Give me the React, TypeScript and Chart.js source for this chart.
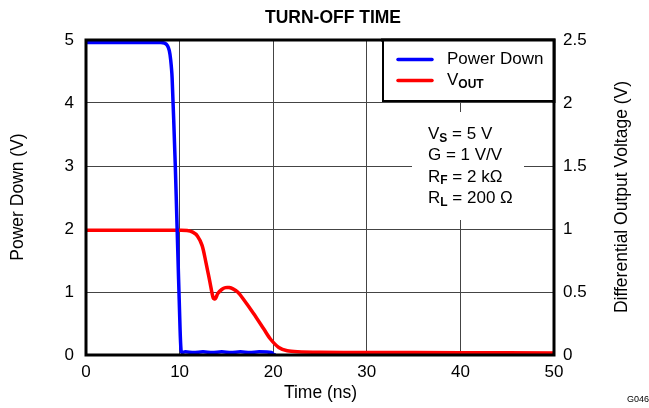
import React, { useEffect, useRef } from "react";
import { Chart, registerables } from "chart.js";

Chart.register(...registerables);

const chartTitle = "TURN-OFF TIME";
const xAxisTitle = "Time (ns)";
const leftAxisTitle = "Power Down (V)";
const rightAxisTitle = "Differential Output Voltage (V)";
const footnote = "G046";

const xTicks = [0, 10, 20, 30, 40, 50];
const leftTicks = [0, 1, 2, 3, 4, 5];
const rightTicks = [0, 0.5, 1, 1.5, 2, 2.5];

const seriesNames = ["Power Down", "V"];
const seriesSubscripts = ["", "OUT"];
const seriesColors = ["#0000ff", "#ff0000"];

const powerDownTime = [0, 8.0, 8.4, 8.7, 8.9, 9.05, 9.2, 9.53, 9.74, 10.05, 10.15, 10.25, 10.6, 11.5, 12.5, 13.5, 14.5, 15.5, 16.5, 17.5, 18.5, 19.8, 20.1, 20.3];
const powerDownVolts = [4.96, 4.96, 4.95, 4.91, 4.83, 4.68, 4.4, 3.05, 1.99, 0.41, 0.08, 0.04, 0.05, 0.04, 0.05, 0.04, 0.05, 0.04, 0.05, 0.04, 0.05, 0.04, 0.0, 0.0];

const voutTime = [0, 10, 10.8, 11.4, 11.9, 12.4, 12.8, 13.25, 13.6, 13.8, 14.1, 14.5, 14.9, 15.3, 15.7, 16.2, 16.8, 17.9, 19.0, 19.7, 20.6, 21.5, 22.6, 25, 30, 40, 50];
const voutVolts = [0.99, 0.99, 0.988, 0.975, 0.945, 0.87, 0.74, 0.575, 0.45, 0.445, 0.49, 0.52, 0.535, 0.535, 0.525, 0.5, 0.445, 0.33, 0.206, 0.127, 0.06, 0.034, 0.026, 0.022, 0.02, 0.018, 0.016];

const conditionMain = ["V", "G", "R", "R"];
const conditionSub = ["S", "", "F", "L"];
const conditionRest = [" = 5 V", " = 1 V/V", " = 2 k\u03A9", " = 200 \u03A9"];

const FONT = "'Liberation Sans', Arial, sans-serif";

const decorPlugin = {
  id: "decor",
  afterDatasetsDraw(chart: any) {
    const { ctx, chartArea: a } = chart;
    ctx.save();
    // frame
    ctx.strokeStyle = "#000";
    ctx.lineWidth = 3;
    ctx.strokeRect(a.left, a.top, a.right - a.left, a.bottom - a.top);
    // legend box
    const lx = 383, ly = a.top, lw = a.right - 383, lh = 101 - a.top;
    ctx.fillStyle = "#fff";
    ctx.fillRect(lx, ly, lw, lh);
    ctx.strokeStyle = "#000";
    ctx.lineWidth = 2;
    ctx.strokeRect(lx, ly, lw, lh);
    ctx.lineWidth = 3;
    ctx.beginPath();
    ctx.moveTo(lx - 2, a.top);
    ctx.lineTo(a.right, a.top);
    ctx.lineTo(a.right, 103);
    ctx.stroke();
    const rows = [59.5, 80.5];
    seriesNames.forEach((name, i) => {
      ctx.strokeStyle = seriesColors[i];
      ctx.lineWidth = 3.5;
      ctx.lineCap = "round";
      ctx.beginPath();
      ctx.moveTo(398, rows[i]);
      ctx.lineTo(432, rows[i]);
      ctx.stroke();
      ctx.fillStyle = "#000";
      ctx.textBaseline = "middle";
      ctx.textAlign = "left";
      ctx.font = `17px ${FONT}`;
      ctx.fillText(name, 447, rows[i]);
      if (seriesSubscripts[i]) {
        const w = ctx.measureText(name).width;
        ctx.font = `bold 12px ${FONT}`;
        ctx.fillText(seriesSubscripts[i], 447 + w, rows[i] + 4);
      }
    });
    // conditions box
    ctx.fillStyle = "#fff";
    ctx.fillRect(412, 112, 112, 108);
    ctx.fillStyle = "#000";
    conditionMain.forEach((m, i) => {
      const y = 134.5 + i * 21.3;
      let x = 428;
      ctx.font = `17px ${FONT}`;
      ctx.fillText(m, x, y);
      x += ctx.measureText(m).width;
      if (conditionSub[i]) {
        ctx.font = `bold 12px ${FONT}`;
        ctx.fillText(conditionSub[i], x, y + 4);
        x += ctx.measureText(conditionSub[i]).width;
      }
      ctx.font = `17px ${FONT}`;
      ctx.fillText(conditionRest[i], x, y);
    });
    ctx.restore();
  },
  afterDraw(chart: any) {
    const { ctx, chartArea: a } = chart;
    ctx.save();
    ctx.fillStyle = "#000";
    ctx.textAlign = "center";
    ctx.textBaseline = "middle";
    ctx.font = `bold 17.5px ${FONT}`;
    ctx.fillText(chartTitle, 333, 18);
    ctx.font = `17.5px ${FONT}`;
    ctx.fillText(xAxisTitle, 320.5, 393);
    ctx.save();
    ctx.translate(18.5, 197);
    ctx.rotate(-Math.PI / 2);
    ctx.fillText(leftAxisTitle, 0, 0);
    ctx.restore();
    ctx.save();
    ctx.translate(622, 197);
    ctx.rotate(-Math.PI / 2);
    ctx.fillText(rightAxisTitle, 0, 0);
    ctx.restore();
    ctx.font = `9px ${FONT}`;
    ctx.textAlign = "left";
    ctx.fillText(footnote, 627, 400);
    ctx.restore();
  },
};

export default function App() {
  const ref = useRef<HTMLCanvasElement | null>(null);
  useEffect(() => {
    document.body.style.margin = "0";
    const canvas = ref.current;
    if (!canvas) return;
    const tickFont = { family: FONT, size: 17 };
    const chart = new Chart(canvas, {
      type: "line",
      data: {
        datasets: [
          {
            label: seriesNames[0],
            data: powerDownTime.map((t, i) => ({ x: t, y: powerDownVolts[i] })),
            borderColor: seriesColors[0],
            borderWidth: 3.5,
            pointRadius: 0,
            tension: 0.2,
            yAxisID: "y",
          },
          {
            label: seriesNames[1] + seriesSubscripts[1],
            data: voutTime.map((t, i) => ({ x: t, y: voutVolts[i] })),
            borderColor: seriesColors[1],
            borderWidth: 3.5,
            pointRadius: 0,
            tension: 0.3,
            yAxisID: "y1",
          },
        ],
      },
      options: {
        animation: false,
        responsive: false,
        maintainAspectRatio: false,
        events: [],
        layout: { padding: { top: 40, left: 0, right: 0, bottom: 0 } },
        plugins: { legend: { display: false }, title: { display: false }, tooltip: { enabled: false } },
        scales: {
          x: {
            type: "linear",
            min: 0,
            max: 50,
            afterBuildTicks: (s: any) => { s.ticks = xTicks.map((v) => ({ value: v })); },
            afterFit: (s: any) => { s.height = 53; },
            ticks: { color: "#000", font: tickFont, padding: 7, maxRotation: 0, callback: (v: any) => String(v) },
            grid: { color: "#444", lineWidth: 1, drawTicks: false },
            border: { display: false },
          },
          y: {
            type: "linear",
            position: "left",
            min: 0,
            max: 5,
            afterBuildTicks: (s: any) => { s.ticks = leftTicks.map((v) => ({ value: v })); },
            afterFit: (s: any) => { s.width = 86; },
            ticks: { color: "#000", font: tickFont, padding: 12, callback: (v: any) => String(v) },
            grid: { color: "#444", lineWidth: 1, drawTicks: false },
            border: { display: false },
          },
          y1: {
            type: "linear",
            position: "right",
            min: 0,
            max: 2.5,
            afterBuildTicks: (s: any) => { s.ticks = rightTicks.map((v) => ({ value: v })); },
            afterFit: (s: any) => { s.width = 95; },
            ticks: { color: "#000", font: tickFont, padding: 9, callback: (v: any) => String(v) },
            grid: { display: false, drawTicks: false },
            border: { display: false },
          },
        },
      },
      plugins: [decorPlugin],
    } as any);
    return () => chart.destroy();
  }, []);
  return (
    <div style={{ position: "absolute", left: 0, top: 0, width: 649, height: 408, background: "#fff" }}>
      <canvas ref={ref} width={649} height={408} style={{ width: 649, height: 408 }} />
    </div>
  );
}
